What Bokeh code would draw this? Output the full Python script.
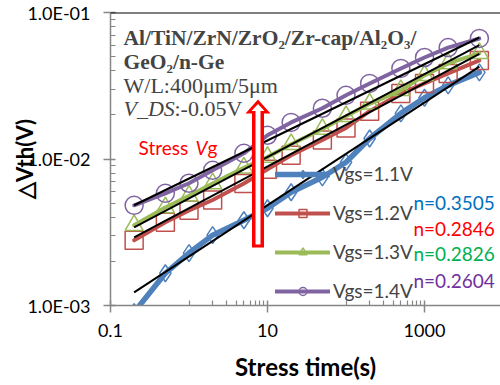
import numpy as np
from bokeh.plotting import figure
from bokeh.models import FixedTicker, Label, Span, Legend, LegendItem
from bokeh.embed import file_html
from bokeh.resources import INLINE

# ---------------- data ----------------
stress_time = [0.2, 0.5, 1, 2, 5, 10, 20, 50, 100, 200, 500, 1000, 2000, 5000]
dvth_11 = [0.0009, 0.00166, 0.00228, 0.00302, 0.00382, 0.00461, 0.00593, 0.0075, 0.0095, 0.0138, 0.0205, 0.0262, 0.0318, 0.0390]
dvth_12 = [0.00279, 0.0037, 0.00446, 0.00525, 0.0068, 0.0085, 0.0106, 0.0135, 0.0163, 0.0212, 0.0280, 0.0328, 0.0384, 0.0471]
dvth_13 = [0.00353, 0.00467, 0.0056, 0.0068, 0.0087, 0.0103, 0.0126, 0.0160, 0.0196, 0.0238, 0.0294, 0.0372, 0.0449, 0.0526]
dvth_14 = [0.00483, 0.00583, 0.00683, 0.00837, 0.01093, 0.01452, 0.01778, 0.0222, 0.0272, 0.0328, 0.0415, 0.0493, 0.0576, 0.0665]
series_names = ["Vgs=1.1V", "Vgs=1.2V", "Vgs=1.3V", "Vgs=1.4V"]
n_values = [0.3505, 0.2846, 0.2826, 0.2604]
fit_prefactor = [0.00216, 0.00462, 0.00539, 0.00735]   # dVth at t = 1 s on the trend line
n_labels = ["n=0.3505", "n=0.2846", "n=0.2826", "n=0.2604"]
x_tick_values = [0.1, 10.0, 1000.0]
x_tick_labels = ["0.1", "10", "1000"]
y_tick_values = [0.001, 0.01, 0.1]
y_tick_labels = ["1.0E-03", "1.0E-02", "1.0E-01"]

series_values = [dvth_11, dvth_12, dvth_13, dvth_14]
colors = ["#4F81BD", "#C0504D", "#9BBB59", "#8064A2"]
n_colors = ["#0070C0", "#FF0000", "#00B050", "#7030A0"]
markers = ["diamond", "square", "triangle", "circle"]
msizes = [17, 18, 18, 18]
lwidths = [5.5, 4, 4, 4]

# ---------------- layout ----------------
W, H = 500, 385
L, R, T, B = 110, 0, 12, 80
fw, fh = W - L - R, H - T - B
X_DEC = 78.5
x0, x1 = 0.1, 10 ** (-1 + fw / X_DEC)
y0, y1 = 1e-3, 1e-1


def px_x(px):
    return 10 ** (np.log10(x0) + (px - L) / fw * (np.log10(x1) - np.log10(x0)))


def px_y(py):
    return 10 ** (np.log10(y1) - (py - T) / fh * (np.log10(y1) - np.log10(y0)))


p = figure(width=W, height=H, x_axis_type="log", y_axis_type="log",
           x_range=(x0, x1), y_range=(y0, y1),
           output_backend="svg", toolbar_location=None,
           min_border_left=L, min_border_right=R, min_border_top=T, min_border_bottom=B)
p.outline_line_color = None
p.grid.visible = False
p.background_fill_color = "white"
p.border_fill_color = "white"

axis_gray = "#868686"
p.xaxis.ticker = FixedTicker(ticks=x_tick_values,
                             minor_ticks=[k * 1.0 for k in range(1, 10)] + [k * 100.0 for k in range(1, 10)])
p.yaxis.ticker = FixedTicker(ticks=y_tick_values,
                             minor_ticks=[k * 1e-3 for k in range(2, 10)] + [k * 1e-2 for k in range(2, 10)])
p.xaxis.major_label_overrides = dict(zip(x_tick_values, x_tick_labels))
p.yaxis.major_label_overrides = dict(zip(y_tick_values, y_tick_labels))
for ax in (p.xaxis, p.yaxis):
    ax.axis_line_color = axis_gray
    ax.axis_line_width = 1.5
    ax.major_tick_line_color = axis_gray
    ax.major_tick_line_width = 1.5
    ax.minor_tick_line_color = axis_gray
    ax.minor_tick_line_width = 1.2
    ax.major_tick_in = 5
    ax.major_tick_out = 7
    ax.minor_tick_in = 5
    ax.minor_tick_out = 0
    ax.major_label_text_font = "Lato"
    ax.major_label_text_font_size = "18px"
    ax.major_label_text_color = "black"
    ax.axis_label_text_font = "Lato"
    ax.axis_label_text_font_style = "bold"
    ax.axis_label_text_color = "black"
p.yaxis.major_label_standoff = 13
p.xaxis.major_label_standoff = 11

p.xaxis.axis_label = "Stress time(s)"
p.xaxis.axis_label_text_font_size = "24px"
p.xaxis.axis_label_standoff = 12
p.yaxis.axis_label = "\u25b3Vth(V)"
p.yaxis.axis_label_text_font_size = "22px"
p.yaxis.axis_label_standoff = -14

p.add_layout(Span(location=y1, dimension="width", line_color="black", line_width=2))

# ---------------- series ----------------
items = []
for vals, name, c, m, ms, lw in zip(series_values, series_names, colors, markers, msizes, lwidths):
    lr = p.line(stress_time, vals, line_color=c, line_width=lw, line_cap="round", line_join="round")
    sr = p.scatter(stress_time, vals, marker=m, size=ms, line_color=c, line_width=1.5, fill_color=None)
    items.append(LegendItem(label=name, renderers=[lr, sr]))

# trend lines (power law fits with the exponents shown on the chart)
t_fit = np.array([min(stress_time), max(stress_time)])
for a, n in zip(fit_prefactor, n_values):
    p.line(t_fit, a * t_fit ** n, line_color="black", line_width=2)

# ---------------- arrow ----------------
cx = 257.5
outer_x = [cx - 6, cx + 6, cx + 6, cx + 12.5, cx, cx - 12.5, cx - 6]
outer_y = [247, 247, 113, 113, 99, 113, 113]
inner_x = [cx - 2.5, cx + 2.5, cx + 2.5, cx + 6.5, cx, cx - 6.5, cx - 2.5]
inner_y = [244, 244, 110.5, 110.5, 103.5, 110.5, 110.5]
p.patch([px_x(v) for v in outer_x], [px_y(v) for v in outer_y], fill_color="#FF0000", line_color=None)
p.patch([px_x(v) for v in inner_x], [px_y(v) for v in inner_y], fill_color="white", line_color=None)

# ---------------- legend ----------------
legend = Legend(items=items, location=(165, 3))
legend.glyph_width = 55
legend.glyph_height = 20
legend.label_height = 20
legend.spacing = 16
legend.padding = 0
legend.margin = 0
legend.border_line_color = None
legend.background_fill_alpha = 0
legend.label_text_font = "Lato"
legend.label_text_font_size = "19px"
legend.label_standoff = 3
p.add_layout(legend)

# ---------------- texts ----------------
serif = "Liberation Serif"


def lab(px, py, text, **kw):
    p.add_layout(Label(x=px_x(px), y=px_y(py), text=text, **kw))


lab(123, 37, "Al/TiN/ZrN/ZrO\u2082/Zr-cap/Al\u2082O\u2083/", text_font=serif, text_font_style="bold",
    text_font_size="21.5px", text_baseline="alphabetic")
lab(123, 61, "GeO\u2082/n-Ge", text_font=serif, text_font_style="bold",
    text_font_size="21.5px", text_baseline="alphabetic")
lab(123, 85, "W/L:400\u03bcm/5\u03bcm", text_font=serif, text_font_size="22px", text_baseline="alphabetic")
lab(123, 108, "V_DS", text_font=serif, text_font_style="italic", text_font_size="22px", text_baseline="alphabetic")
lab(174, 108, ":-0.05V", text_font=serif, text_font_size="22px", text_baseline="alphabetic")

lab(138, 147, "Stress", text_font="Lato", text_font_size="19px", text_color="#FF0000", text_baseline="alphabetic")
lab(195, 147, "V", text_font="Lato", text_font_style="italic", text_font_size="19px", text_color="#FF0000",
    text_baseline="alphabetic")
lab(207, 147, "g", text_font="Lato", text_font_size="19px", text_color="#FF0000", text_baseline="alphabetic")

for txt, col, yy in zip(n_labels, n_colors, [202, 228, 253, 280]):
    lab(413, yy, txt, text_font="Lato", text_font_size="19px", text_color=col, text_baseline="middle")

open("out.html", "w").write(file_html(p, INLINE))
